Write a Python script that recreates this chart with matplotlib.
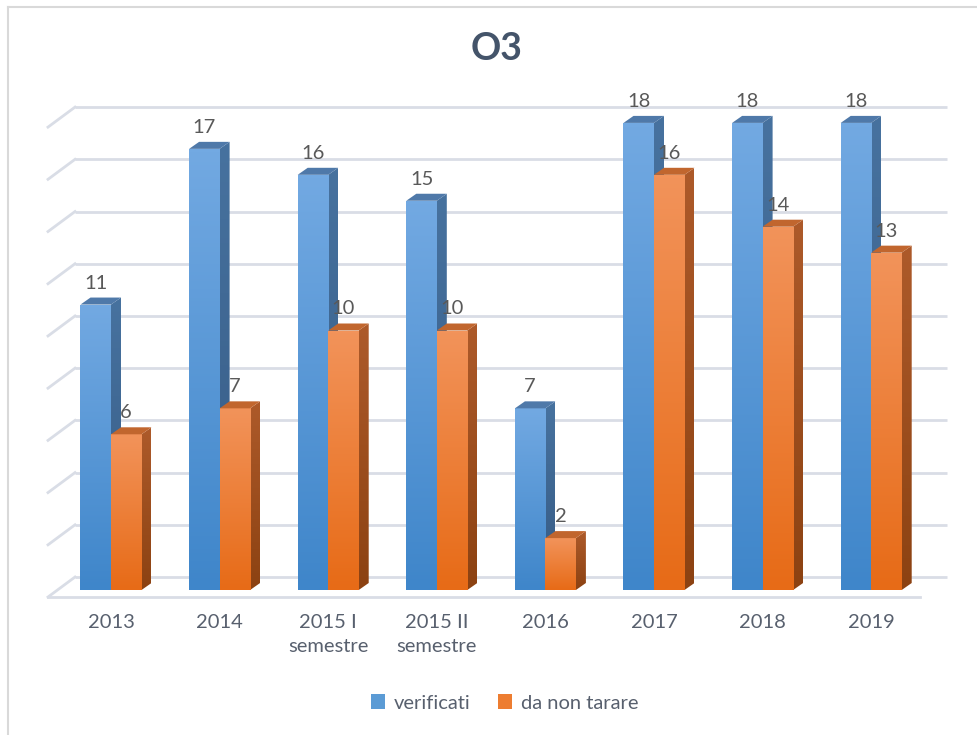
import numpy as np
import matplotlib
matplotlib.use("Agg")
import matplotlib.pyplot as plt
from matplotlib.patches import Polygon, Rectangle
from matplotlib.colors import LinearSegmentedColormap
from matplotlib.lines import Line2D

plt.rcParams['font.family'] = ['Lato', 'DejaVu Sans']

categories = ['2013', '2014', '2015 I\nsemestre', '2015 II\nsemestre', '2016', '2017', '2018', '2019']
verificati = [11, 17, 16, 15, 7, 18, 18, 18]
da_non_tarare = [6, 7, 10, 10, 2, 16, 14, 13]
gridvals = list(range(0, 19, 2))

W, H = 978, 735
fig = plt.figure(figsize=(W / 100, H / 100), dpi=100)

# pixel layout of the plot area
px_cat0, px_step = 111, 108.6     # x of category 0 (pair centre), spacing
py_zero, py_unit = 590, 25.95     # y of value 0 at the bars' front, px per unit
ax_l, ax_r, ax_b, ax_t = 40, 960, 610, 90
ax = fig.add_axes([ax_l / W, (H - ax_b) / H, (ax_r - ax_l) / W, (ax_b - ax_t) / H])
ax.set_xlim((ax_l - px_cat0) / px_step, (ax_r - px_cat0) / px_step)
ax.set_ylim((py_zero - ax_b) / py_unit, (py_zero - ax_t) / py_unit)
for s in ax.spines.values():
    s.set_visible(False)

def dx(px):
    return px / px_step

def dy(px):
    return px / py_unit

grid_c = '#d9dde6'
# back wall gridlines + left wall diagonals
xb_l, xb_r = dx(75 - px_cat0), dx(947 - px_cat0)
xf_l, xf_r = dx(48 - px_cat0), dx(920 - px_cat0)
wall = dy(20)
for v in gridvals:
    yb = 0.5 + 1.006 * v
    ax.plot([xb_l, xb_r], [yb, yb], color=grid_c, lw=2, zorder=1, solid_capstyle='butt')
    ax.plot([xf_l, xb_l], [yb - wall, yb], color=grid_c, lw=2, zorder=1)
# front floor edge
ax.plot([xf_l, xf_r], [0.5 - wall, 0.5 - wall], color=grid_c, lw=2, zorder=1)

bw = dx(30.5)
ddx, ddy = dx(10), dy(7)

styles = {
    'blue': dict(front=('#72a9e2', '#3f86ca'), side=('#47729f', '#355a84'), top='#4f79a9'),
    'orange': dict(front=('#f2935a', '#e76b17'), side=('#ad5a2a', '#8c4212'), top='#c1662e'),
}

def grad_fill(poly, extent, c_top, c_bot, z):
    cmap = LinearSegmentedColormap.from_list('g', [c_bot, c_top])
    grad = np.linspace(1, 0, 64).reshape(-1, 1)
    im = ax.imshow(grad, cmap=cmap, extent=extent, aspect='auto',
                   interpolation='bicubic', zorder=z, vmin=0, vmax=1)
    ax.add_patch(poly)
    poly.set_visible(False)
    im.set_clip_path(poly)

def bar3d(x0, h, st, z):
    xr = x0 + bw
    side = Polygon([(xr, 0), (xr, h), (xr + ddx, h + ddy), (xr + ddx, ddy)], closed=True,
                   transform=ax.transData)
    grad_fill(side, [xr, xr + ddx, 0, h + ddy], st['side'][0], st['side'][1], z)
    front = Rectangle((x0, 0), bw, h, transform=ax.transData)
    grad_fill(front, [x0, xr, 0, h], st['front'][0], st['front'][1], z + 0.1)
    top = Polygon([(x0, h), (xr, h), (xr + ddx, h + ddy), (x0 + ddx, h + ddy)], closed=True,
                  facecolor=st['top'], edgecolor='none', zorder=z + 0.2)
    ax.add_patch(top)

lab_c = '#595959'
for i, (a, b) in enumerate(zip(verificati, da_non_tarare)):
    z = 5 + i
    bar3d(i - bw, a, styles['blue'], z)
    bar3d(i, b, styles['orange'], z + 0.4)
    ax.text(i - bw / 2, a + dy(16), str(a), ha='center', va='baseline',
            fontsize=14.5, color=lab_c, zorder=30)
    ax.text(i + bw / 2, b + dy(16), str(b), ha='center', va='baseline',
            fontsize=14.5, color=lab_c, zorder=30)

ax.set_xticks(range(len(categories)))
ax.set_xticklabels(categories, fontsize=14.5, color='#58606e', linespacing=1.5)
ax.tick_params(axis='x', length=0, pad=3)
ax.set_yticks([])

fig.text(0.508, (H - 49) / H, 'O3', ha='center', va='center', fontsize=27,
         fontweight='bold', color='#44546a')

handles = [Rectangle((0, 0), 1, 1, facecolor='#5b9bd5'),
           Rectangle((0, 0), 1, 1, facecolor='#ed7d31')]
fig.legend(handles, ['verificati', 'da non tarare'], loc='center',
           bbox_to_anchor=(0.516, (H - 703) / H), ncol=2, frameon=False,
           fontsize=14.5, handlelength=0.7, handleheight=0.7, handletextpad=0.4,
           columnspacing=1.4, labelcolor='#58606e')

# outer chart border (only left and top edges are visible)
fig.add_artist(Line2D([8 / W, 8 / W], [0, (H - 7) / H], color='#d9d9d9', lw=1.5))
fig.add_artist(Line2D([8 / W, 1], [(H - 7) / H, (H - 7) / H], color='#d9d9d9', lw=1.5))

fig.savefig('out.png', dpi=100)
